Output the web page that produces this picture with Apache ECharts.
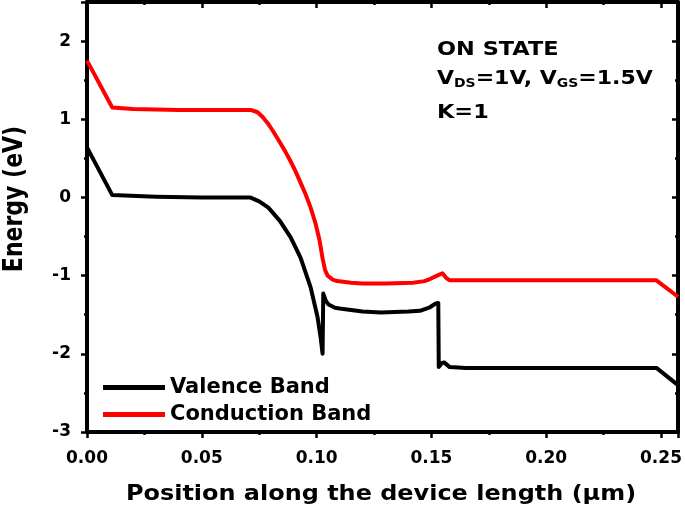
<!DOCTYPE html>
<html>
<head>
<meta charset="utf-8">
<script src="https://cdn.jsdelivr.net/npm/echarts@6.0.0/dist/echarts.min.js"></script>
<style>
  html, body { margin: 0; padding: 0; background: #fff; }
  #chart { width: 685px; height: 513px; }
</style>
</head>
<body>
<div id="chart"></div>
<script>
// band edges (position in um, energy in eV)
const positionCB = [0, 0.011, 0.02, 0.04, 0.06, 0.0713, 0.0743, 0.0765, 0.0787, 0.081, 0.0843, 0.0865, 0.0887, 0.0909, 0.093, 0.0952, 0.0974, 0.0996, 0.1013, 0.1026, 0.1037, 0.1048, 0.107, 0.109, 0.115, 0.12, 0.13, 0.142, 0.147, 0.1496, 0.1525, 0.1548, 0.1565, 0.158, 0.165, 0.2, 0.248, 0.2574];
const energyCB = [1.75, 1.15, 1.13, 1.12, 1.12, 1.12, 1.09, 1.03, 0.95, 0.85, 0.69, 0.58, 0.46, 0.33, 0.19, 0.04, -0.13, -0.34, -0.55, -0.78, -0.93, -1.0, -1.05, -1.07, -1.09, -1.1, -1.1, -1.09, -1.07, -1.04, -1.0, -0.97, -1.03, -1.06, -1.06, -1.06, -1.06, -1.27];

const positionVB = [0, 0.011, 0.03, 0.05, 0.071, 0.075, 0.079, 0.084, 0.0887, 0.093, 0.0974, 0.1004, 0.1018, 0.1026, 0.1029, 0.104, 0.1052, 0.108, 0.11, 0.12, 0.128, 0.14, 0.145, 0.149, 0.1517, 0.153, 0.1532, 0.1545, 0.1555, 0.158, 0.165, 0.2, 0.248, 0.2574];
const energyVB = [0.64, 0.03, 0.01, 0.0, 0.0, -0.05, -0.13, -0.3, -0.51, -0.77, -1.15, -1.53, -1.8, -2.0, -1.23, -1.32, -1.37, -1.41, -1.42, -1.46, -1.47, -1.46, -1.45, -1.41, -1.36, -1.35, -2.17, -2.12, -2.11, -2.17, -2.18, -2.18, -2.18, -2.4];

const X_MIN = 0, X_MAX = 0.2574, X_STEP = 0.05;
const Y_MIN = -3, Y_MAX = 2.5, Y_STEP = 1;

const FONT = "'DejaVu Sans', 'Liberation Sans', sans-serif";

function pairs(xs, ys) {
  return xs.map((x, i) => [x, ys[i]]);
}

const chart = echarts.init(document.getElementById("chart"), null, { renderer: "canvas" });

const axisLine = { show: true, onZero: false, lineStyle: { color: "#000", width: 4 } };
const tickStyle = { color: "#000", width: 2.5 };
const tickFont = { fontFamily: FONT, fontWeight: "bold", fontSize: 17, color: "#000" };

// the reference text is drawn a bit wider than normal, hence scaleX
function label(text, x, y, size, align, stretch, rich) {
  return {
    type: "text",
    x: x,
    y: y,
    scaleX: stretch,
    style: {
      text: text,
      fontFamily: FONT, fontWeight: "bold", fontSize: size, fill: "#000",
      textAlign: align, textVerticalAlign: "middle",
      rich: rich
    }
  };
}

const subStyle = { sub: { fontFamily: FONT, fontWeight: "bold", fontSize: 12, fill: "#000", padding: [9, 0, 0, 0] } };

chart.setOption({
  animation: false,
  backgroundColor: "#fff",
  grid: { left: 87, right: 7, top: 2, bottom: 81, containLabel: false },
  legend: {
    orient: "vertical",
    left: 98,
    top: 372,
    itemWidth: 62,
    itemHeight: 5,
    itemGap: 6,
    icon: "rect",
    textStyle: { fontFamily: FONT, fontWeight: "bold", fontSize: 21, color: "#000" },
    data: ["Valence Band", "Conduction Band"]
  },
  xAxis: [
    {
      type: "value",
      min: X_MIN,
      max: X_MAX,
      interval: X_STEP,
      axisLine: axisLine,
      axisTick: { show: true, length: 6, lineStyle: tickStyle },
      minorTick: { show: true, splitNumber: 2, length: 3, lineStyle: tickStyle },
      splitLine: { show: false },
      axisLabel: Object.assign({
        margin: 18,
        showMaxLabel: false,
        formatter: (v) => v.toFixed(2)
      }, tickFont)
    },
    {
      type: "value",
      position: "top",
      min: X_MIN,
      max: X_MAX,
      interval: X_STEP,
      axisLine: axisLine,
      axisTick: { show: true, inside: true, length: 6, lineStyle: tickStyle },
      minorTick: { show: true, splitNumber: 2, length: 3, lineStyle: tickStyle },
      splitLine: { show: false },
      axisLabel: { show: false }
    }
  ],
  yAxis: [
    {
      type: "value",
      min: Y_MIN,
      max: Y_MAX,
      interval: Y_STEP,
      axisLine: axisLine,
      axisTick: { show: true, length: 6, lineStyle: tickStyle },
      minorTick: { show: true, splitNumber: 2, length: 3, lineStyle: tickStyle },
      splitLine: { show: false },
      axisLabel: Object.assign({ margin: 16, showMaxLabel: false }, tickFont)
    },
    {
      type: "value",
      position: "right",
      min: Y_MIN,
      max: Y_MAX,
      interval: Y_STEP,
      axisLine: axisLine,
      axisTick: { show: true, inside: true, length: 6, lineStyle: tickStyle },
      minorTick: { show: true, splitNumber: 2, length: 3, lineStyle: tickStyle },
      splitLine: { show: false },
      axisLabel: { show: false }
    }
  ],
  graphic: [
    // axis titles
    {
      type: "text",
      x: 15,
      y: 199,
      rotation: Math.PI / 2,
      scaleY: 1.2,
      style: {
        text: "Energy (eV)",
        fontFamily: FONT, fontWeight: "bold", fontSize: 22, fill: "#000",
        textAlign: "center", textVerticalAlign: "middle"
      }
    },
    label("Position along the device length (\u03bcm)", 381, 495, 21, "center", 1.14),
    // operating point annotation
    label("ON STATE", 437, 50, 19, "left", 1.18),
    label("V{sub|DS}=1V, V{sub|GS}=1.5V", 437, 79, 19, "left", 1.16, subStyle),
    label("K=1", 437, 113, 19, "left", 1.18)
  ],
  series: [
    {
      name: "Valence Band",
      type: "line",
      data: pairs(positionVB, energyVB),
      showSymbol: false,
      smooth: false,
      color: "#000",
      lineStyle: { color: "#000", width: 4, join: "round" }
    },
    {
      name: "Conduction Band",
      type: "line",
      data: pairs(positionCB, energyCB),
      showSymbol: false,
      smooth: false,
      color: "#ff0000",
      lineStyle: { color: "#ff0000", width: 4, join: "round" }
    }
  ]
});
</script>
</body>
</html>
